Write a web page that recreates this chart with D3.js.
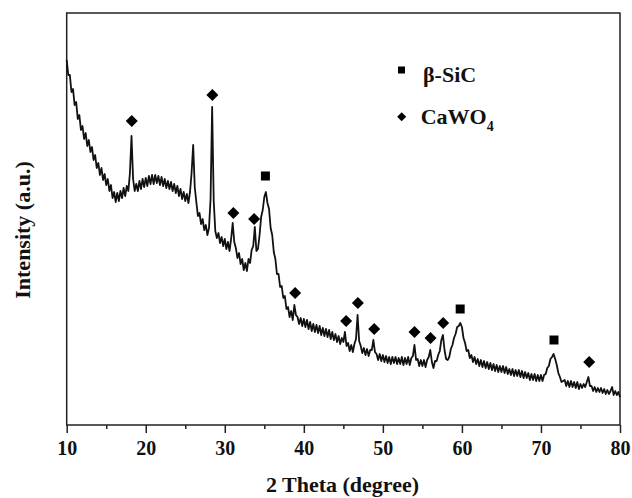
<!DOCTYPE html>
<html>
<head>
<meta charset="utf-8">
<script src="https://cdn.jsdelivr.net/npm/d3@7"></script>
<style>
  body { margin: 0; background: #fff; }
  svg { display: block; }
  text { font-family: "Liberation Serif", "Times New Roman", serif; font-weight: bold; fill: #111; }
</style>
</head>
<body>
<svg id="chart" width="632" height="498"></svg>
<script>
// XRD pattern, one reading every 0.2 degree from 10 to 80 (2 theta)
const twoThetaStart = 10;
const twoThetaStep = 0.2;
const intensity = [
  365, 350, 350, 333, 336,   // 10
  320, 323, 306, 310, 295,   // 11
  299, 286, 292, 279, 285,   // 12
  273, 278, 265, 270, 257,   // 13
  262, 250, 257, 245, 251,   // 14
  240, 246, 234, 240, 227,   // 15
  233, 223, 232, 224, 234,   // 16
  227, 237, 229, 239, 234,   // 17
  252, 289, 246, 234, 241,   // 18
  234, 244, 236, 246, 238,   // 19
  247, 239, 249, 241, 250,   // 20
  241, 250, 242, 249, 240,   // 21
  248, 239, 246, 237, 244,   // 22
  236, 243, 234, 241, 232,   // 23
  239, 229, 236, 226, 233,   // 24
  224, 231, 222, 233, 252,   // 25
  280, 238, 223, 209, 212,   // 26
  201, 206, 195, 200, 190,   // 27
  197, 226, 318, 224, 194,   // 28
  187, 192, 182, 188, 179,   // 29
  186, 176, 183, 174, 186,   // 30
  202, 183, 177, 167, 172,   // 31
  161, 166, 155, 162, 154,   // 32
  166, 162, 175, 179, 198,   // 33
  174, 176, 190, 208, 215,   // 34
  228, 233, 222, 216, 197,   // 35
  190, 173, 166, 151, 151,   // 36
  138, 139, 127, 129, 116,   // 37
  118, 108, 114, 105, 120,   // 38
  110, 108, 101, 107,  99,   // 39
  106,  98, 105,  96, 103,   // 40
   94, 101,  93, 100,  92,   // 41
   99,  90,  97,  89,  96,   // 42
   88,  95,  86,  93,  85,   // 43
   91,  83,  89,  81,  87,   // 44
   83,  93,  79,  82,  74,   // 45
   80,  73,  81,  86, 110,   // 46
   84,  79,  72,  77,  70,   // 47
   76,  69,  75,  75,  85,   // 48
   73,  71,  65,  71,  64,   // 49
   70,  63,  69,  62,  68,   // 50
   61,  68,  62,  68,  61,   // 51
   67,  61,  68,  60,  67,   // 52
   61,  68,  60,  67,  69,   // 53
   80,  65,  66,  59,  65,   // 54
   59,  65,  58,  65,  68,   // 55
   75,  63,  57,  64,  64,   // 56
   70,  74,  85,  90,  75,   // 57
   66,  65,  68,  76,  80,   // 58
   87,  91,  98,  99, 102,   // 59
   98,  87,  82,  74,  75,   // 60
   67,  70,  63,  68,  61,   // 61
   66,  59,  65,  58,  64,   // 62
   57,  63,  56,  62,  55,   // 63
   61,  54,  60,  53,  59,   // 64
   53,  59,  52,  58,  51,   // 65
   56,  50,  56,  49,  55,   // 66
   49,  55,  48,  54,  47,   // 67
   53,  47,  52,  45,  51,   // 68
   45,  51,  44,  50,  44,   // 69
   50,  44,  50,  51,  57,   // 70
   59,  66,  68,  71,  66,   // 71
   60,  52,  48,  43,  44,   // 72
   45,  39,  44,  38,  44,   // 73
   38,  43,  37,  43,  36,   // 74
   41,  37,  41,  38,  43,   // 75
   48,  39,  39,  34,  38,   // 76
   33,  37,  33,  37,  32,   // 77
   36,  31,  35,  31,  34,   // 78
   38,  30,  34,  30,  33,   // 79
   28                        // 80
];

// peak labels: [2 theta, marker height]
const sicMarks = [[35.14, 249], [59.78, 116], [71.65, 85]];
const cawo4Marks = [
  [18.23, 304], [28.43, 330], [31.09, 212], [33.71, 206], [38.9, 132], [45.35, 104],
  [46.84, 122], [48.9, 96], [54.0, 93], [56.03, 87], [57.63, 102], [76.1, 63]
];

const xMajorTicks = [10, 20, 30, 40, 50, 60, 70, 80];
const xMinorTicks = [15, 25, 35, 45, 55, 65, 75];

const margin = {top: 13, right: 12, bottom: 73, left: 66.7};
const width = 632 - margin.left - margin.right;
const height = 498 - margin.top - margin.bottom;

const svg = d3.select("#chart")
  .append("g")
  .attr("transform", "translate(" + margin.left + "," + margin.top + ")");

const x = d3.scaleLinear().domain([10, 80]).range([0, width]);
const y = d3.scaleLinear().domain([0, 412]).range([height, 0]);

const points = intensity.map((v, i) => [twoThetaStart + i * twoThetaStep, v]);

// minor ticks
svg.append("g")
  .attr("transform", "translate(0," + height + ")")
  .call(d3.axisBottom(x).tickValues(xMinorTicks).tickSize(4).tickFormat(""))
  .call(g => g.select(".domain").remove())
  .call(g => g.selectAll("line").attr("stroke", "#222").attr("stroke-width", 1.5));

// major ticks + labels
svg.append("g")
  .attr("transform", "translate(0," + height + ")")
  .call(d3.axisBottom(x).tickValues(xMajorTicks).tickSize(8).tickFormat(d3.format("d")))
  .call(g => g.select(".domain").remove())
  .call(g => g.selectAll("line").attr("stroke", "#222").attr("stroke-width", 1.5))
  .call(g => g.selectAll("text")
    .attr("dy", null)
    .attr("y", 30)
    .style("font-size", "20px")
    .style("font-family", "'Liberation Serif', 'Times New Roman', serif")
    .style("font-weight", "bold")
    .attr("fill", "#111"));

// frame
svg.append("rect")
  .attr("width", width)
  .attr("height", height)
  .attr("fill", "none")
  .attr("stroke", "#222")
  .attr("stroke-width", 1.5);

// pattern
const line = d3.line()
  .x(d => x(d[0]))
  .y(d => y(d[1]));

svg.append("path")
  .datum(points)
  .attr("fill", "none")
  .attr("stroke", "#111")
  .attr("stroke-width", 1.8)
  .attr("stroke-linejoin", "round")
  .attr("d", line);

// phase markers
const squareSym = d3.symbol().type(d3.symbolSquare).size(81);
const diamondSym = d3.symbol().type(d3.symbolSquare).size(72);

svg.selectAll(".sic")
  .data(sicMarks)
  .enter().append("path")
  .attr("class", "sic")
  .attr("d", squareSym)
  .attr("fill", "#000")
  .attr("transform", d => "translate(" + x(d[0]) + "," + y(d[1]) + ")");

svg.selectAll(".cawo4")
  .data(cawo4Marks)
  .enter().append("path")
  .attr("class", "cawo4")
  .attr("d", diamondSym)
  .attr("fill", "#000")
  .attr("transform", d => "translate(" + x(d[0]) + "," + y(d[1]) + ") rotate(45)");

// legend
const legend = d3.select("#chart").append("g");
legend.append("path")
  .attr("d", d3.symbol().type(d3.symbolSquare).size(49))
  .attr("fill", "#000")
  .attr("transform", "translate(401.5,70)");
legend.append("text")
  .attr("x", 423)
  .attr("y", 82)
  .style("font-size", "22px")
  .text("β-SiC");
legend.append("path")
  .attr("d", d3.symbol().type(d3.symbolSquare).size(41))
  .attr("fill", "#000")
  .attr("transform", "translate(401.7,116.7) rotate(45)");
const cw = legend.append("text")
  .attr("x", 420.7)
  .attr("y", 124)
  .style("font-size", "22px");
cw.append("tspan").text("CaWO");
cw.append("tspan").attr("dy", 7).style("font-size", "14px").text("4");

// axis titles
d3.select("#chart").append("text")
  .attr("x", 342.5)
  .attr("y", 492)
  .attr("text-anchor", "middle")
  .style("font-size", "22px")
  .text("2 Theta (degree)");

d3.select("#chart").append("text")
  .attr("transform", "translate(30,230) rotate(-90)")
  .attr("text-anchor", "middle")
  .style("font-size", "22px")
  .text("Intensity (a.u.)");
</script>
</body>
</html>
